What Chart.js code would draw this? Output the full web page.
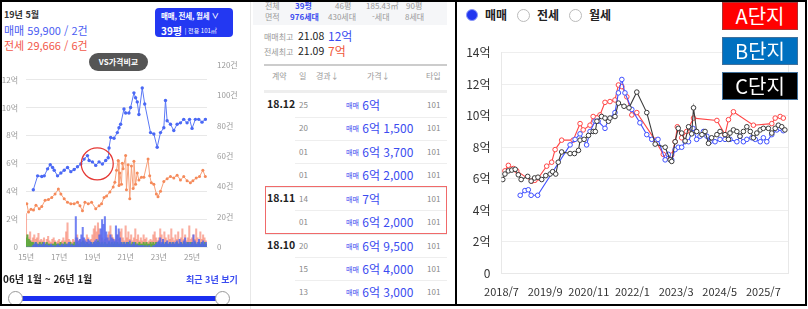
<!DOCTYPE html>
<html lang="ko">
<head>
<meta charset="UTF-8">
<title>단지 실거래가 비교</title>
<script src="https://cdn.jsdelivr.net/npm/chart.js"></script>
<style>
  body { margin: 0; background: #fff; font-family: "Noto Sans CJK KR", "Noto Sans", sans-serif; }
  #wrap { position: relative; width: 808px; height: 309px; overflow: hidden; }
  .abs { position: absolute; white-space: nowrap; line-height: 1; }
  canvas { position: absolute; }
</style>
</head>
<body>
<div id="wrap">
  <!-- 왼쪽: 시세 차트 화면 -->
  <div class="abs" style="left:4px;top:10px;font-size:9px;font-weight:700;color:#333">19년 5월</div>
  <div class="abs" style="left:4px;top:25px;font-size:11px;color:#4a5cf2">매매 59,900 / 2건</div>
  <div class="abs" style="left:4px;top:40px;font-size:11px;color:#f2584a">전세 29,666 / 6건</div>
  <div class="abs" style="left:155px;top:8px;width:78px;height:29px;background:#2338f2;border-radius:4px;"></div>
  <div class="abs" style="left:161px;top:12px;font-size:7.5px;font-weight:700;color:#fff;letter-spacing:-0.2px">매매, 전세, 월세 ∨</div>
  <div class="abs" style="left:161px;top:26px;font-size:10px;font-weight:700;color:#fff">39평 <span style="font-size:6px;font-weight:400;vertical-align:2px">| 전용 101㎡</span></div>
  <div class="abs" style="left:89px;top:53px;width:59px;height:18px;background:#555;border-radius:9px;color:#fff;font-size:8px;font-weight:700;text-align:center;line-height:18px">VS가격비교</div>
  <canvas id="leftChart" width="245" height="222" style="left:0;top:50px"></canvas>
  <div class="abs" style="left:3px;top:274px;font-size:10px;font-weight:700;color:#222">06년 1월 ~ 26년 1월</div>
  <div class="abs" style="left:186px;top:275px;font-size:9px;font-weight:700;color:#3b4cf0">최근 3년 보기</div>
  <div class="abs" style="left:15px;top:296px;width:207px;height:5px;background:#1a2ef0"></div>
  <div class="abs" style="left:8px;top:291px;width:13px;height:13px;border-radius:50%;background:#fff;border:1px solid #999"></div>
  <div class="abs" style="left:215px;top:291px;width:13px;height:13px;border-radius:50%;background:#fff;border:1px solid #999"></div>

  <!-- 가운데: 실거래 목록 -->
  <div class="abs" style="left:250px;top:0;width:1px;height:309px;background:#e8e8e8"></div>
  <div class="abs" style="left:253px;top:0;width:194px;height:25px;background:#f5f6f8"></div>
  <div id="table"></div>

  <!-- 오른쪽: 단지 비교 차트 -->
  <div class="abs" style="left:466px;top:9px;width:10px;height:10px;border-radius:50%;background:#2236f0;border:1.5px solid #8a96f8"></div>
  <div class="abs" style="left:485px;top:9px;font-size:12px;font-weight:700;color:#222">매매</div>
  <div class="abs" style="left:517px;top:9px;width:11px;height:11px;border-radius:50%;background:#fff;border:1px solid #bbb"></div>
  <div class="abs" style="left:537px;top:9px;font-size:12px;font-weight:700;color:#222">전세</div>
  <div class="abs" style="left:569px;top:9px;width:11px;height:11px;border-radius:50%;background:#fff;border:1px solid #bbb"></div>
  <div class="abs" style="left:589px;top:9px;font-size:12px;font-weight:700;color:#222">월세</div>
  <canvas id="rightChart" width="349" height="272" style="left:457px;top:34px"></canvas>
  <div class="abs" style="left:722px;top:2px;width:74px;height:26px;background:#ff0000;border:1px solid #a33;color:#fff;font-size:20px;text-align:center;line-height:26px">A단지</div>
  <div class="abs" style="left:722px;top:37px;width:74px;height:26px;background:#0070c0;border:1px solid #41719c;color:#fff;font-size:20px;text-align:center;line-height:26px">B단지</div>
  <div class="abs" style="left:722px;top:72px;width:74px;height:26px;background:#000;border:1px solid #41719c;color:#fff;font-size:20px;text-align:center;line-height:26px">C단지</div>

  <!-- 테두리 -->
  <div class="abs" style="left:0;top:0;width:803px;height:302px;border:2px solid #000"></div>
  <div class="abs" style="left:455px;top:0;width:2px;height:306px;background:#000"></div>
</div>

<script>
// 왼쪽 차트: 매매/전세 시세 (단위 억, x는 연도)
const leftTickYears = [2015, 2017, 2019, 2021, 2023, 2025];
const saleYears = [2015.44, 2015.7, 2015.95, 2016.1, 2016.3, 2016.46, 2016.6, 2016.7, 2016.9, 2017.1, 2017.3, 2017.5, 2017.7, 2017.9, 2018.1, 2018.3, 2018.5, 2018.7, 2018.8, 2019.0, 2019.2, 2019.4, 2019.6, 2019.8, 2019.95, 2020.0, 2020.1, 2020.3, 2020.5, 2020.6, 2020.7, 2020.9, 2021.0, 2021.2, 2021.3, 2021.5, 2021.6, 2021.7, 2021.8, 2022.0, 2022.15, 2022.5, 2022.7, 2022.9, 2023.1, 2023.3, 2023.4, 2023.5, 2023.7, 2023.9, 2024.1, 2024.3, 2024.5, 2024.7, 2024.85, 2025.0, 2025.2, 2025.4, 2025.6, 2025.8];
const salePrices = [4.1, 5.1, 5.05, 5.1, 5.6, 5.9, 5.7, 5.5, 5.1, 5.3, 5.5, 5.7, 5.4, 5.55, 5.75, 5.95, 6.3, 6.55, 6.2, 6.1, 5.85, 6.1, 5.95, 6.2, 6.4, 7.1, 7.85, 7.8, 8.2, 8.55, 8.8, 9.9, 9.6, 9.6, 10.0, 11.05, 10.7, 10.4, 9.5, 11.4, 10.25, 8.2, 8.1, 7.15, 8.2, 8.55, 10.5, 9.05, 8.8, 8.35, 8.8, 8.9, 9.15, 8.9, 9.15, 8.5, 9.15, 9.15, 8.95, 9.15];
const jeonseYears = [2015.05, 2015.15, 2015.3, 2015.45, 2015.6, 2015.8, 2015.95, 2016.15, 2016.35, 2016.55, 2016.75, 2016.95, 2017.1, 2017.3, 2017.5, 2017.7, 2017.9, 2018.1, 2018.25, 2018.4, 2018.55, 2018.75, 2018.95, 2019.2, 2019.4, 2019.55, 2019.7, 2019.85, 2020.05, 2020.25, 2020.35, 2020.45, 2020.55, 2020.6, 2020.65, 2020.75, 2020.8, 2020.85, 2021.0, 2021.05, 2021.15, 2021.25, 2021.35, 2021.45, 2021.5, 2021.6, 2021.7, 2021.8, 2021.95, 2022.1, 2022.35, 2022.45, 2022.55, 2022.7, 2022.85, 2022.95, 2023.1, 2023.3, 2023.5, 2023.7, 2023.9, 2024.1, 2024.3, 2024.5, 2024.7, 2024.9, 2025.05, 2025.25, 2025.45, 2025.65, 2025.8];
const jeonsePrices = [3.1, 2.5, 2.7, 2.65, 3.0, 2.75, 2.9, 3.35, 3.4, 3.55, 3.8, 4.15, 3.8, 3.45, 3.2, 3.1, 3.1, 3.2, 2.95, 2.6, 3.2, 3.1, 3.2, 2.75, 2.95, 3.1, 3.55, 3.65, 3.95, 4.3, 4.65, 5.5, 6.2, 4.4, 5.3, 4.5, 6.0, 5.6, 6.55, 4.1, 5.9, 3.45, 5.8, 4.2, 6.15, 4.5, 5.3, 4.8, 5.0, 5.0, 6.3, 5.1, 4.6, 4.5, 3.8, 3.6, 4.0, 4.7, 4.9, 5.05, 4.95, 5.15, 4.8, 5.05, 4.75, 4.6, 4.75, 4.95, 5.05, 5.5, 5.05];
// 월별 거래 건수 (2015년 1월부터)
const saleCounts = [0,0,0,0,0,1,2,3,2,1,2,1, 2,3,1,2,1,1,2,1,1,0,1,2, 1,1,2,1,2,1,2,3,1,2,1,1, 20,6,4,5,8,13,6,4,3,5,4,3, 2,3,4,5,3,8,12,18,15,20,10,6, 4,8,6,5,4,14,8,12,6,3,2,3, 2,3,2,4,1,2,3,1,2,1,1,1, 1,1,0,1,0,1,0,0,1,1,2,3, 4,6,3,5,2,3,4,2,3,2,3,2, 3,4,2,5,3,2,4,6,3,2,3,2, 3,8,4,2,3,5,2,3,4,2,3];
const jeonseCounts = [22,8,6,10,4,6,8,5,6,9,4,5, 4,6,3,5,7,4,3,5,6,4,3,4, 5,3,4,6,4,10,16,5,4,3,5,4, 6,8,4,5,3,6,4,5,8,6,4,5, 8,12,14,10,16,12,8,6,4,5,6,8, 10,14,8,6,5,4,8,5,10,12,6,4, 14,6,10,5,8,4,6,12,5,8,4,6, 4,8,5,6,3,4,5,4,8,10,6,4, 6,12,8,5,10,6,4,8,5,12,6,4, 8,5,10,4,6,12,5,8,4,6,14,5, 6,8,5,12,6,4,10,5,8,6,4];
const rentCounts = [6,8,5,4,3,3,2,3,2,2,3,2, 3,2,2,3,2,2,1,2,2,3,2,2, 2,3,2,2,3,2,2,2,3,2,2,3, 2,3,2,2,3,4,3,2,3,2,2,3, 2,3,2,3,4,3,2,3,2,3,2,2, 3,2,3,2,3,2,3,2,2,3,2,3, 2,3,3,2,2,3,2,3,2,2,3,2, 2,3,2,3,2,2,3,2,3,2,3,2, 3,2,2,3,2,3,2,2,3,2,3,2, 2,3,2,2,3,2,3,2,2,3,2,3, 3,2,3,2,2,3,2,3,2,3,2];

// 오른쪽 차트: 단지별 매매가 (x = 2018년 7월부터 개월 수, 단위 억)
const rightTickMonths = [0, 14, 28, 42, 56, 70, 84];
const aMonths = [1.1, 2.2, 3.8, 4.9, 9.7, 10.7, 11.8, 14.5, 16.1, 17.2, 19.3, 23, 25.2, 26.2, 28.4, 29.4, 31.6, 33.2, 34.8, 36.4, 37.5, 38.6, 40.2, 41.8, 43.4, 49.3, 51.9, 53, 54.6, 55.7, 56.4, 57.8, 59.4, 61.6, 69.1, 71.7, 72.8, 74.4, 80.8, 86.7, 87.8, 89.4, 90.4];
const aPrices = [6.5, 6.85, 6.65, 6.5, 5.85, 5.9, 6.05, 6.8, 7.05, 7.85, 8.45, 8.45, 9.5, 9.1, 9.4, 9.95, 10.05, 10.85, 10.9, 11.0, 11.95, 11.85, 11.2, 10.05, 10.2, 8.45, 7.55, 7.4, 7.5, 8.35, 9.3, 8.6, 9.0, 9.85, 9.7, 8.8, 9.75, 10.25, 9.4, 9.5, 9.85, 9.95, 9.85];
const bMonths = [6, 7.5, 8.6, 9.5, 11.6, 22, 23.6, 25.2, 27.3, 28.4, 30, 31, 33.2, 34.3, 36.4, 37.5, 38.6, 39.6, 41.8, 44.4, 46.6, 48.2, 50.2, 52.5, 53.5, 54.6, 55.7, 56.7, 57.8, 58.9, 60, 61.4, 62.6, 63.7, 64.8, 65.9, 66.9, 68.5, 70.1, 71.7, 73.3, 75.5, 76.5, 77.6, 78.7, 80.3, 81.4, 83, 84, 85.1, 86.7, 88.3, 89.4, 90.4];
const bPrices = [4.95, 5.25, 5.3, 4.95, 4.95, 8.15, 8.5, 8.85, 8.15, 9.0, 9.65, 9.65, 9.2, 9.75, 10.2, 11.45, 12.3, 11.45, 10.4, 9.55, 8.8, 8.5, 8.5, 7.2, 7.55, 7.2, 7.85, 8.0, 8.0, 8.35, 8.35, 9.2, 8.5, 8.7, 9.0, 8.7, 8.35, 8.35, 8.5, 8.5, 8.5, 8.35, 8.7, 8.35, 8.5, 8.6, 8.5, 8.35, 8.6, 8.35, 8.8, 9.1, 9.2, 9.05];
const cMonths = [0.4, 1.1, 2.2, 3.3, 4.4, 5.4, 6.3, 8.4, 9.5, 10.6, 11.7, 12.9, 14.2, 15.6, 16.4, 17.4, 18.2, 19.3, 22, 23.4, 24.7, 25.2, 26.5, 27.9, 29.4, 30.1, 30.6, 32.1, 33.2, 34.3, 34.8, 36.4, 37.5, 39.3, 40.9, 43.4, 46.6, 49.3, 52.5, 54.1, 54.6, 55.7, 56.7, 57.8, 58.9, 60, 61, 61.6, 62.6, 64.3, 65.3, 66.4, 67.4, 69.1, 70.1, 71.7, 72.8, 73.3, 74.4, 75.5, 76.5, 77.6, 78.7, 79.8, 80.8, 81.9, 83, 84, 85.6, 86.7, 87.8, 88.8, 89.9, 90.9];
const cPrices = [5.95, 6.3, 6.5, 6.55, 6.6, 6.25, 5.95, 6.15, 5.85, 6.05, 6.1, 5.95, 6.2, 6.3, 6.45, 6.3, 7.05, 7.7, 7.6, 7.6, 7.8, 8.45, 8.5, 8.75, 9.0, 9.0, 9.65, 9.95, 9.85, 9.65, 9.85, 9.95, 10.8, 10.6, 10.5, 11.5, 10.2, 8.2, 8.0, 7.2, 7.1, 8.35, 9.2, 8.9, 8.4, 9.3, 8.85, 10.5, 9.0, 8.8, 9.0, 8.25, 8.6, 8.8, 9.0, 8.8, 8.5, 8.9, 9.1, 9.0, 8.7, 9.0, 9.3, 9.0, 8.6, 8.9, 9.1, 9.2, 9.2, 8.9, 9.2, 9.4, 9.3, 9.1];

// 실거래 목록
const tradeRows = [
  ['18.12', '25', '6억', ''],
  ['', '20', '6억', ' 1,500'],
  ['', '01', '6억', ' 3,700'],
  ['', '01', '6억', ' 2,000'],
  ['18.11', '14', '7억', ''],
  ['', '01', '6억', ' 2,000'],
  ['18.10', '20', '6억', ' 9,500'],
  ['', '15', '6억', ' 4,000'],
  ['', '13', '6억', ' 3,000']
];

function pts(xs, ys) {
  return xs.map((x, i) => ({ x: x, y: ys[i] }));
}
function monthly(counts) {
  return counts.map((c, i) => ({ x: 2015 + i / 12, y: c }));
}

// 가운데 표 만들기
function buildTable() {
  let h = '';
  const add = (l, t, style, text) => {
    h += '<div class="abs" style="left:' + l + 'px;top:' + t + 'px;' + style + '">' + text + '</div>';
  };
  const g = 'font-size:8px;color:#999;';
  add(265, 2, g, '전체'); add(295, 2, g + 'color:#3b4cf0;font-weight:700', '39평'); add(335, 2, g, '46평');
  add(366, 2, g, '185.43㎡'); add(406, 2, g, '90평');
  add(265, 13, g, '면적'); add(290, 13, g + 'color:#3b4cf0;font-weight:700', '976세대'); add(328, 13, g, '430세대');
  add(372, 13, g, '-세대'); add(405, 13, g, '8세대');
  add(264, 33, g, '매매최고'); add(298, 31, 'font-size:10.5px;color:#222', '21.08'); add(328, 30, 'font-size:12px;color:#3b4cf0', '12억');
  add(264, 48, g, '전세최고'); add(298, 46, 'font-size:10.5px;color:#222', '21.09'); add(328, 45, 'font-size:12px;color:#f0583a', '7억');
  add(264, 64, 'width:183px;height:2px;background:#ccc;', '');
  add(272, 72, g, '계약'); add(299, 72, g, '일'); add(316, 72, g, '경과↓'); add(367, 72, g, '가격↓'); add(426, 72, g, '타입');
  add(264, 90, 'width:183px;height:3px;background:#eee;', '');
  tradeRows.forEach((r, i) => {
    const cy = 105 + i * 23.42;
    if (r[0]) add(267, cy - 6, 'font-size:10.5px;font-weight:700;color:#222', r[0]);
    add(299, cy - 4, 'font-size:8px;color:#888', r[1]);
    add(346, cy - 6, 'font-size:12px;color:#3b4cf0', '<span style="font-size:7px;vertical-align:2px">매매</span> ' + r[2] + r[3]);
    add(427, cy - 4, 'font-size:8px;color:#888', '101');
    if (i < tradeRows.length - 1) {
      const newMonth = tradeRows[i + 1][0] !== '';
      const lx = newMonth ? 265 : 295;
      add(lx, cy + 11.5, 'width:' + (447 - lx) + 'px;height:1px;background:#eee;', '');
    }
  });
  add(265, 186, 'width:180px;height:46px;border:1.5px solid #f06a6a;', '');
  document.getElementById('table').innerHTML = h;
}
buildTable();

// 원 표시 (19년 부근 강조)
const circleMark = {
  id: 'circleMark',
  afterDatasetsDraw(chart) {
    const { ctx, scales } = chart;
    ctx.save();
    ctx.strokeStyle = '#e53935';
    ctx.lineWidth = 1.3;
    ctx.beginPath();
    ctx.arc(scales.x.getPixelForValue(2019.29), scales.y.getPixelForValue(5.96), 16, 0, Math.PI * 2);
    ctx.stroke();
    ctx.restore();
  }
};

const smallTick = { size: 8, family: '"Noto Sans CJK KR", sans-serif' };

new Chart(document.getElementById('leftChart'), {
  type: 'line',
  data: {
    datasets: [
      { label: '매매', data: pts(saleYears, salePrices), yAxisID: 'y', borderColor: '#5a78f5', backgroundColor: '#4a68f5', borderWidth: 1, pointRadius: 1.7, pointBorderWidth: 0, order: 1 },
      { label: '전세', data: pts(jeonseYears, jeonsePrices), yAxisID: 'y', borderColor: '#f7a07a', backgroundColor: '#f58a5a', borderWidth: 1, pointRadius: 1.5, pointBorderWidth: 0, order: 2 },
      { type: 'bar', label: '매매건수', data: monthly(saleCounts), yAxisID: 'y2', backgroundColor: 'rgba(80,100,240,0.8)', barThickness: 1.4, grouped: false, order: 3 },
      { type: 'bar', label: '월세건수', data: monthly(rentCounts), yAxisID: 'y2', backgroundColor: 'rgba(90,170,60,0.9)', barThickness: 1.4, grouped: false, order: 4 },
      { type: 'bar', label: '전세건수', data: monthly(jeonseCounts), yAxisID: 'y2', backgroundColor: 'rgba(248,140,120,0.7)', barThickness: 1.4, grouped: false, order: 5 }
    ]
  },
  options: {
    responsive: false,
    animation: false,
    layout: { padding: { top: 14 } },
    plugins: { legend: { display: false }, tooltip: { enabled: false } },
    scales: {
      x: {
        type: 'linear', min: 2015, max: 2025.9, offset: false,
        ticks: { padding: 5, autoSkip: false, maxRotation: 0, color: '#999', font: smallTick, callback: v => (v % 100) + '년' },
        afterBuildTicks: s => { s.ticks = leftTickYears.map(v => ({ value: v })); },
        grid: { display: false, drawTicks: false, offset: false }, border: { color: '#eee' },
        afterFit: s => { s.height = 25; }
      },
      y: {
        position: 'left', min: 0, max: 13.06,
        ticks: { stepSize: 2, padding: 8, color: '#999', font: smallTick, callback: v => v === 0 ? '0' : v + '억' },
        afterBuildTicks: s => { s.ticks = s.ticks.filter(t => t.value % 2 === 0); },
        grid: { color: '#e8e8e8', drawTicks: false }, border: { display: false },
        afterFit: s => { s.width = 26; }
      },
      y2: {
        position: 'right', min: 0, max: 120,
        ticks: { stepSize: 20, padding: 10, color: '#999', font: smallTick, callback: v => v === 0 ? '0' : v + '건' },
        grid: { display: false, drawTicks: false }, border: { display: false },
        afterFit: s => { s.width = 38; }
      }
    }
  },
  plugins: [circleMark]
});

const axisFont = { size: 11, family: '"Noto Sans CJK KR", sans-serif' };
const monthLabel = v => (2018 + Math.floor((6 + v) / 12)) + '/' + ((6 + v) % 12 + 1);
const lineSet = (label, xs, ys, color, order) => ({
  label: label, data: pts(xs, ys), borderColor: color, backgroundColor: '#fff',
  pointBorderColor: color, borderWidth: 1.1, pointRadius: 2.3, pointBorderWidth: 1, order: order
});

new Chart(document.getElementById('rightChart'), {
  type: 'line',
  data: {
    datasets: [
      lineSet('A단지', aMonths, aPrices, '#ff4545', 3),
      lineSet('B단지', bMonths, bPrices, '#4050ff', 2),
      lineSet('C단지', cMonths, cPrices, '#3a3a3a', 1)
    ]
  },
  options: {
    responsive: false,
    animation: false,
    layout: { padding: { top: 18.7 } },
    plugins: { legend: { display: false }, tooltip: { enabled: false } },
    scales: {
      x: {
        type: 'linear', min: 0, max: 92,
        ticks: { padding: 12, autoSkip: false, maxRotation: 0, minRotation: 0, color: '#333', font: axisFont, callback: monthLabel },
        afterBuildTicks: s => { s.ticks = rightTickMonths.map(v => ({ value: v })); },
        grid: { display: false, drawTicks: false }, border: { color: '#e8e8e8' },
        afterFit: s => { s.height = 32.7; }
      },
      y: {
        min: 0, max: 14,
        ticks: { stepSize: 2, padding: 11, color: '#333', font: { size: 12, family: '"Noto Sans CJK KR", sans-serif' }, callback: v => v === 0 ? '0' : v + '억' },
        grid: { color: '#eeeeee', drawTicks: false }, border: { color: '#e8e8e8' },
        afterFit: s => { s.width = 44.5; }
      },
      y2: {
        position: 'right', min: 0, max: 14,
        ticks: { display: false }, grid: { display: false, drawTicks: false }, border: { color: '#e8e8e8' },
        afterFit: s => { s.width = 17.7; }
      }
    }
  }
});
</script>
</body>
</html>
